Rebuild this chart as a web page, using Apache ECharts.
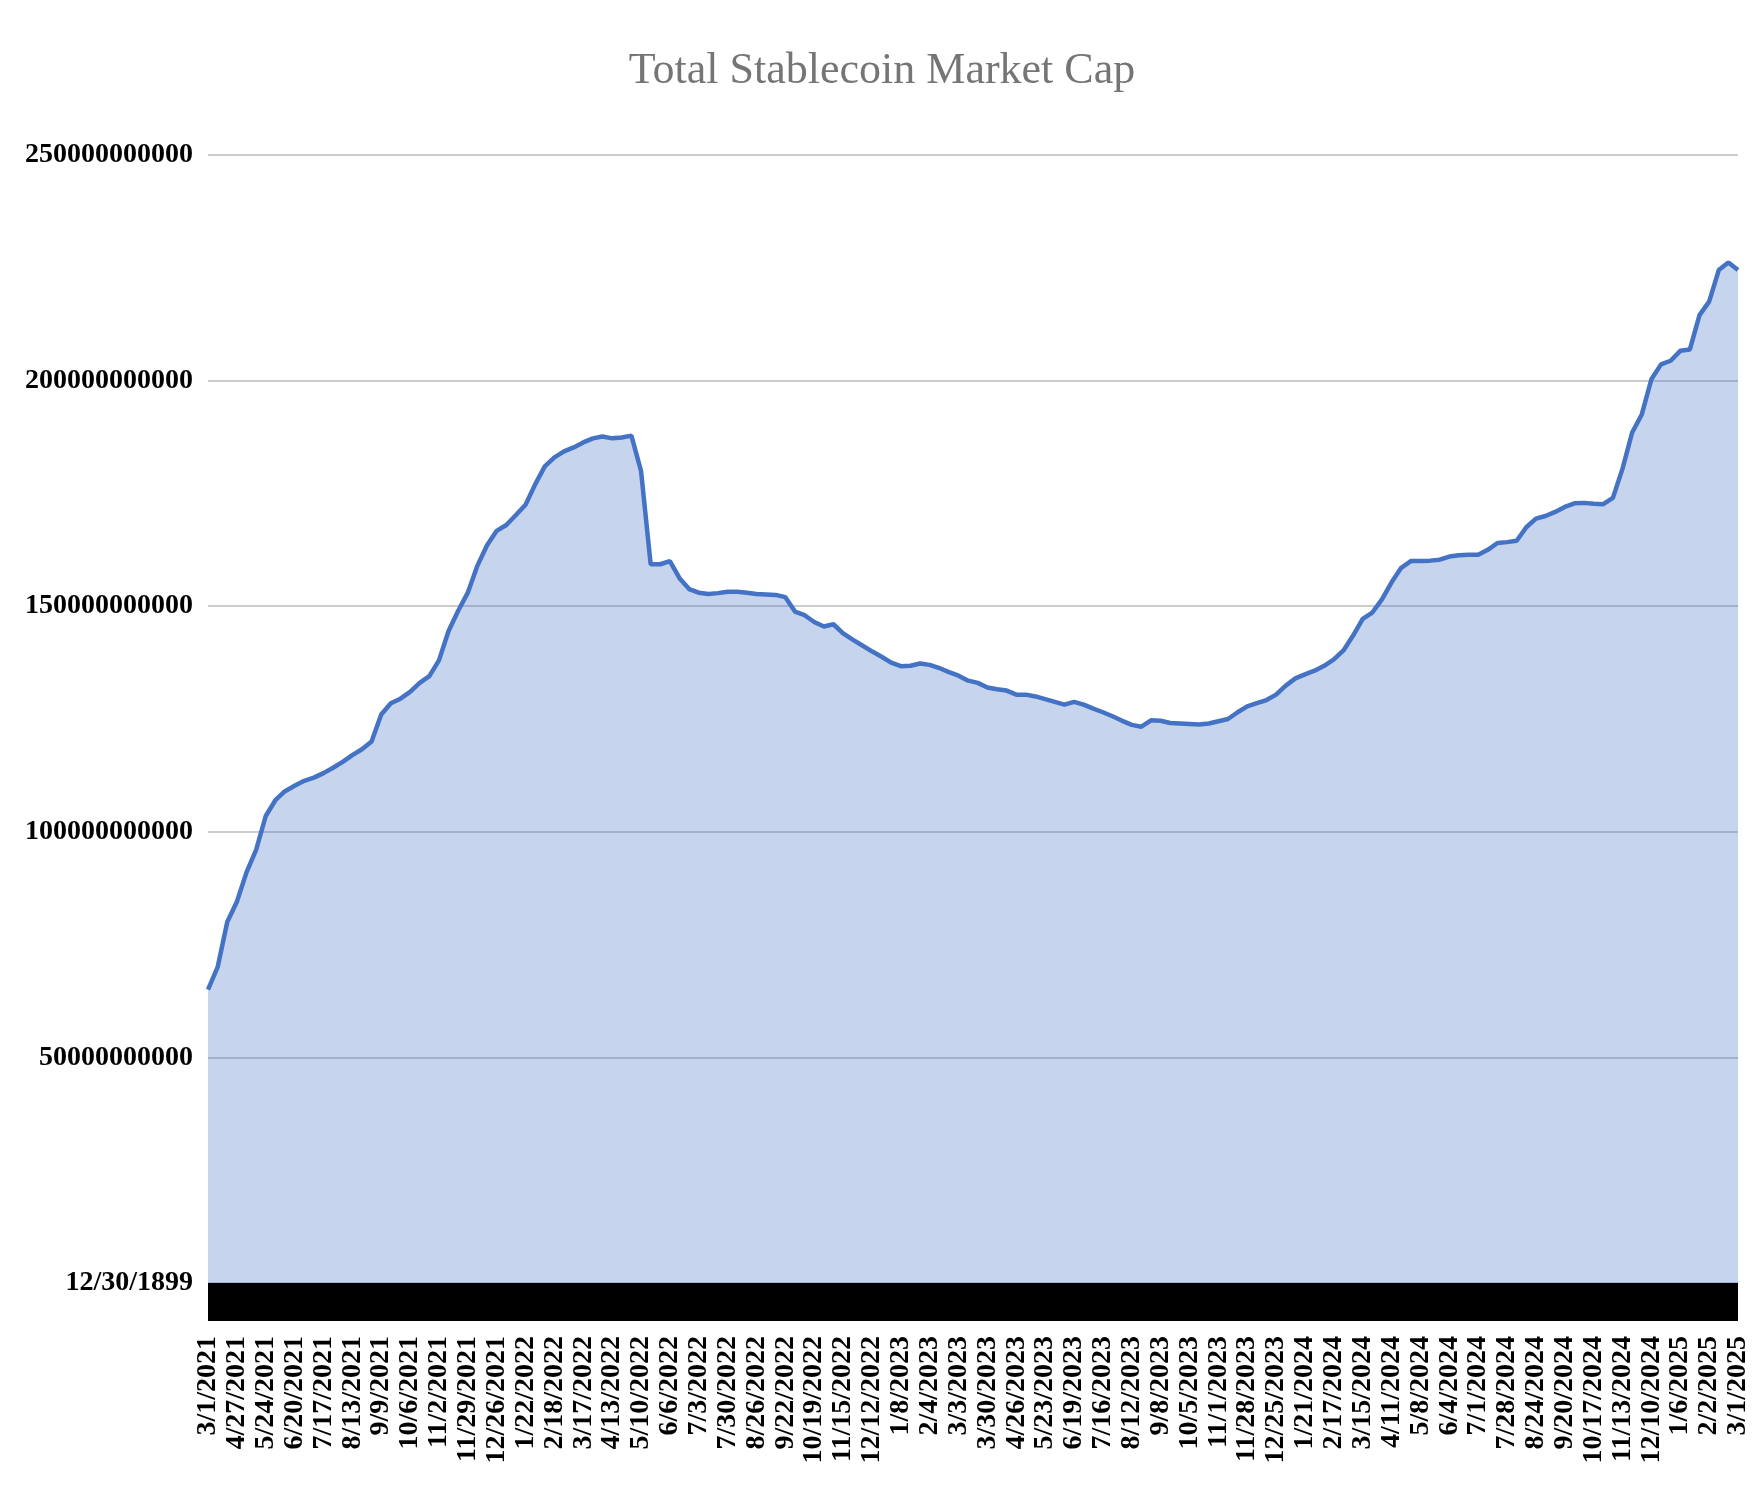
<!DOCTYPE html>
<html>
<head>
<meta charset="utf-8">
<script src="https://cdn.jsdelivr.net/npm/echarts@6/dist/echarts.min.js"></script>
<style>
html,body{margin:0;padding:0;background:#fff;}
#chart{width:1764px;height:1492px;}
</style>
</head>
<body>
<div id="chart"></div>
<script>
// Tick label dates shown on the x axis (every 3rd category)
const tickLabels = [
  '3/1/2021','4/27/2021','5/24/2021','6/20/2021','7/17/2021','8/13/2021','9/9/2021','10/6/2021','11/2/2021','11/29/2021','12/26/2021',
  '1/22/2022','2/18/2022','3/17/2022','4/13/2022','5/10/2022','6/6/2022','7/3/2022','7/30/2022','8/26/2022','9/22/2022','10/19/2022','11/15/2022','12/12/2022',
  '1/8/2023','2/4/2023','3/3/2023','3/30/2023','4/26/2023','5/23/2023','6/19/2023','7/16/2023','8/12/2023','9/8/2023','10/5/2023','11/1/2023','11/28/2023','12/25/2023',
  '1/21/2024','2/17/2024','3/15/2024','4/11/2024','5/8/2024','6/4/2024','7/1/2024','7/28/2024','8/24/2024','9/20/2024','10/17/2024','11/13/2024','12/10/2024',
  '1/6/2025','2/2/2025','3/1/2025'
];

// Total stablecoin market cap, in billions of USD (~9-day steps)
const marketCapB = [
  65, 70, 80, 84.5, 91, 96, 103.5, 107, 109, 110.2,
  111.3, 112, 113, 114.2, 115.5, 117, 118.3, 120, 126, 128.5,
  129.5, 131, 133, 134.5, 138, 144.5, 149, 153, 159, 163.5,
  166.7, 168, 170.2, 172.5, 177, 181, 183, 184.3, 185.2, 186.3,
  187.2, 187.6, 187.2, 187.4, 187.8, 180, 159.3, 159.3, 160, 156.2,
  153.8, 153, 152.7, 152.9, 153.2, 153.2, 153, 152.7, 152.6, 152.5,
  152, 148.8, 148, 146.5, 145.5, 146, 144, 142.6, 141.3, 140,
  138.8, 137.5, 136.7, 136.8, 137.3, 137, 136.3, 135.4, 134.6, 133.5,
  133, 132, 131.6, 131.3, 130.4, 130.4, 130, 129.4, 128.8, 128.2,
  128.8, 128.2, 127.3, 126.5, 125.6, 124.6, 123.7, 123.3, 124.7, 124.6,
  124.1, 124, 123.9, 123.8, 124, 124.5, 125, 126.5, 127.8, 128.5,
  129.2, 130.4, 132.4, 134, 134.9, 135.7, 136.8, 138.2, 140.2, 143.5,
  147.2, 148.6, 151.5, 155.3, 158.5, 160, 160, 160.1, 160.3, 161,
  161.3, 161.4, 161.4, 162.5, 164, 164.2, 164.5, 167.5, 169.4, 170,
  170.9, 172, 172.8, 172.9, 172.7, 172.6, 174, 180.5, 188.5, 192.5,
  200.3, 203.6, 204.4, 206.6, 206.9, 214.5, 217.5, 224.5, 226.2, 224.5
];

const yTickLabels = ['12/30/1899', '50000000000', '100000000000', '150000000000', '200000000000', '250000000000'];

// Build category names: tick dates plus two intermediate dates per interval
function parseD(s){ const p = s.split('/').map(Number); return Date.UTC(p[2], p[0]-1, p[1]); }
function fmtD(t){ const d = new Date(t); return (d.getUTCMonth()+1) + '/' + d.getUTCDate() + '/' + d.getUTCFullYear(); }
const SUB = 3;
const categories = [];
for (let k = 0; k < tickLabels.length - 1; k++) {
  const a = parseD(tickLabels[k]), b = parseD(tickLabels[k+1]);
  categories.push(tickLabels[k]);
  for (let j = 1; j < SUB; j++) {
    const days = Math.round(j * (b - a) / 86400000 / SUB);
    categories.push(fmtD(a + days * 86400000));
  }
}
categories.push(tickLabels[tickLabels.length - 1]);

const FONT = "'Liberation Serif', 'Times New Roman', serif";
const chart = echarts.init(document.getElementById('chart'), null, {renderer: 'canvas'});
chart.setOption({
  animation: false,
  backgroundColor: '#ffffff',
  title: {
    text: 'Total Stablecoin Market Cap',
    left: 'center',
    top: 44,
    textStyle: {fontFamily: FONT, fontSize: 44, fontWeight: 'normal', color: '#757575'}
  },
  grid: {left: 208, right: 26, top: 155, bottom: 209, containLabel: false},
  xAxis: {
    type: 'category',
    data: categories,
    boundaryGap: false,
    position: 'bottom',
    offset: 19,
    axisLine: {show: true, onZero: false, lineStyle: {color: '#000000', width: 38, cap: 'butt'}},
    axisTick: {show: false},
    splitLine: {show: false},
    axisLabel: {
      interval: SUB - 1,
      rotate: 90,
      margin: 34,
      fontFamily: FONT,
      fontSize: 28,
      fontWeight: 'bold',
      color: '#000000'
    }
  },
  yAxis: {
    type: 'value',
    min: 0,
    max: 250,
    interval: 50,
    axisLine: {show: false},
    axisTick: {show: false},
    splitLine: {show: true, lineStyle: {color: '#cccccc', width: 2}},
    axisLabel: {
      margin: 15,
      fontFamily: FONT,
      fontSize: 28,
      fontWeight: 'bold',
      color: '#000000',
      formatter: function (v) { return yTickLabels[Math.round(v / 50)]; }
    }
  },
  series: [{
    type: 'line',
    data: marketCapB,
    symbol: 'none',
    lineStyle: {color: '#4472c4', width: 4.5},
    areaStyle: {color: '#4472c4', opacity: 0.3}
  }]
});
</script>
</body>
</html>
